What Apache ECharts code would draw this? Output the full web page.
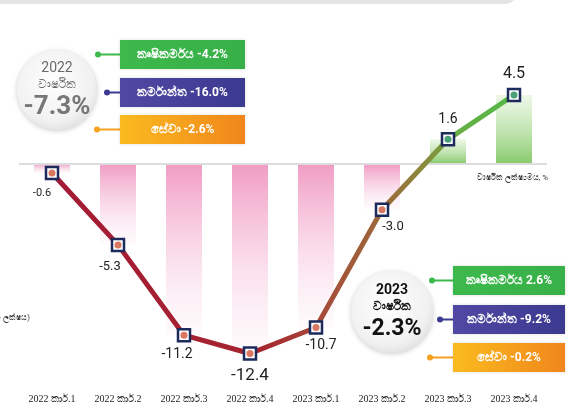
<!DOCTYPE html>
<html>
<head>
<meta charset="utf-8">
<script src="https://cdn.jsdelivr.net/npm/echarts@6/dist/echarts.min.js"></script>
<style>
  html, body { margin: 0; padding: 0; background: #fff; }
  #chart { width: 576px; height: 412px; }
</style>
</head>
<body>
<div id="chart"></div>
<script>
// quarters and annual growth rate (%)
var quarters = ['2022 කාර්.1', '2022 කාර්.2', '2022 කාර්.3', '2022 කාර්.4',
                '2023 කාර්.1', '2023 කාර්.2', '2023 කාර්.3', '2023 කාර්.4'];
var growth = [-0.6, -5.3, -11.2, -12.4, -10.7, -3.0, 1.6, 4.5];

// yearly summaries
var summary2022 = ['2022', 'වාර්ෂික', '-7.3%'];
var summary2023 = ['2023', 'වාර්ෂික', '-2.3%'];
var sectors2022 = ['කෘෂිකර්මය -4.2%', 'කර්මාන්ත -16.0%', 'සේවා -2.6%'];
var sectors2023 = ['කෘෂිකර්මය 2.6%', 'කර්මාන්ත -9.2%', 'සේවා -0.2%'];

// label placement per point (style only)
var labelOffsets = [[-10, 2], [-8, 2], [-7, -1], [0, 0], [5, -2], [11, -3], [0, 0], [0, 0]];
var labelSizes = [11, 13, 14, 17, 14, 13, 14, 16];

var font = '"Roboto", "Liberation Sans", "Noto Sans", sans-serif';
var chart = echarts.init(document.getElementById('chart'));

function barColor(v) {
  if (v < 0) {
    return new echarts.graphic.LinearGradient(0, 0, 0, 1, [
      { offset: 0, color: 'rgba(240,150,192,0.95)' },
      { offset: 1, color: 'rgba(250,225,237,0.15)' }
    ]);
  }
  return new echarts.graphic.LinearGradient(0, 0, 0, 1, [
    { offset: 0, color: 'rgba(225,243,215,0.6)' },
    { offset: 1, color: 'rgba(130,200,100,0.95)' }
  ]);
}

var barData = growth.map(function (v) {
  return { value: v, itemStyle: { color: barColor(v) } };
});

var lineData = growth.map(function (v, i) {
  return {
    value: v,
    label: {
      show: true,
      position: v < 0 ? 'bottom' : 'top',
      distance: 6,
      offset: labelOffsets[i],
      fontSize: labelSizes[i],
      color: '#222',
      fontFamily: font,
      formatter: function (p) { return p.value.toFixed(1); }
    }
  };
});

var dotData = growth.map(function (v) {
  return { value: v, itemStyle: { color: v < 0 ? '#d0553a' : '#1e8a55' } };
});

// annotation helpers
var boxColors = [
  new echarts.graphic.LinearGradient(0, 0, 1, 0, [{ offset: 0, color: '#3db94c' }, { offset: 1, color: '#38b048' }]),
  new echarts.graphic.LinearGradient(0, 0, 1, 0, [{ offset: 0, color: '#5148a3' }, { offset: 1, color: '#3b3990' }]),
  new echarts.graphic.LinearGradient(0, 0, 1, 0, [{ offset: 0, color: '#fbbb1f' }, { offset: 1, color: '#f0861c' }])
];
var dotColors = ['#3db94c', '#3d3a92', '#f6a21e'];

function sectorBoxes(labels, x, ys, w, h, dotXs) {
  var els = [];
  labels.forEach(function (t, i) {
    var cy = ys[i] + h / 2;
    els.push({ type: 'line', shape: { x1: dotXs[i], y1: cy, x2: x, y2: cy },
      style: { stroke: dotColors[i], lineWidth: 2 } });
    els.push({ type: 'circle', shape: { cx: dotXs[i], cy: cy, r: 3 }, style: { fill: dotColors[i] } });
    els.push({ type: 'rect', shape: { x: x, y: ys[i], width: w, height: h },
      style: { fill: boxColors[i], shadowBlur: 3, shadowColor: 'rgba(0,0,0,0.15)' } });
    els.push({ type: 'text', x: x + w / 2, y: cy,
      style: { text: t, fill: '#fff', font: 'bold 12px ' + font, align: 'center', verticalAlign: 'middle' } });
  });
  return els;
}

function badge(cx, cy, r, lines, dark) {
  return [
    { type: 'circle', shape: { cx: cx, cy: cy, r: r },
      style: {
        fill: new echarts.graphic.RadialGradient(0.45, 0.4, 0.7, [
          { offset: 0, color: '#ffffff' }, { offset: 0.7, color: '#f1f1f1' }, { offset: 1, color: '#d9d9d9' }
        ]),
        shadowBlur: 5, shadowColor: 'rgba(0,0,0,0.2)', shadowOffsetY: 1
      } },
    { type: 'text', x: cx, y: cy - 22,
      style: { text: lines[0], fill: dark ? '#111' : '#6a6a6a', font: (dark ? 'bold ' : '') + '14px ' + font, align: 'center', verticalAlign: 'middle' } },
    { type: 'text', x: cx, y: cy - 5,
      style: { text: lines[1], fill: dark ? '#111' : '#6a6a6a', font: (dark ? 'bold ' : '') + '12px ' + font, align: 'center', verticalAlign: 'middle' } },
    { type: 'text', x: cx, y: cy + 17,
      style: { text: lines[2], fill: dark ? '#111' : '#777', font: 'bold ' + (dark ? 23 : 26) + 'px ' + font, align: 'center', verticalAlign: 'middle' } }
  ];
}

var graphics = [
  { type: 'rect', shape: { x: -20, y: -20, width: 536, height: 24, r: 10 }, style: { fill: '#e4e4e4' } },
  { type: 'text', x: 548, y: 178,
    style: { text: 'වාර්ෂික ලක්ෂ්‍යමය, %', fill: '#333', font: '8px ' + font, align: 'right', verticalAlign: 'middle' } },
  { type: 'text', x: 30, y: 318,
    style: { text: '(ප්‍රතිශත ලක්ෂය)', fill: '#333', font: '8px ' + font, align: 'right', verticalAlign: 'middle' } }
]
  .concat(badge(57, 90, 40, summary2022, false))
  .concat(sectorBoxes(sectors2022, 120, [40, 78, 115], 125, 29, [98, 107, 97]))
  .concat(badge(392, 312, 41, summary2023, true))
  .concat(sectorBoxes(sectors2023, 453, [266, 305, 343], 112, 29, [432, 440, 430]));

var option = {
  animation: false,
  grid: { left: 19, right: 29, top: 72, bottom: 34 },
  xAxis: {
    type: 'category',
    data: quarters,
    axisLine: { show: false, onZero: false },
    axisTick: { show: false },
    axisLabel: { color: '#222', fontSize: 10, margin: 16, fontFamily: '"Liberation Serif", "DejaVu Serif", serif' }
  },
  yAxis: {
    type: 'value', min: -14, max: 6, show: false, splitLine: { show: false }
  },
  series: [
    {
      type: 'bar',
      data: barData,
      barWidth: 36,
      silent: true,
      z: 1,
      markLine: {
        silent: true, symbol: 'none', label: { show: false },
        lineStyle: { color: '#dcdcdc', width: 2, type: 'solid' },
        data: [{ yAxis: 0 }]
      }
    },
    {
      type: 'line',
      data: lineData,
      z: 5,
      symbol: 'rect',
      symbolSize: 12,
      itemStyle: { color: '#ffffff', borderColor: '#1d2a5c', borderWidth: 2.5 },
      lineStyle: {
        width: 5,
        color: new echarts.graphic.LinearGradient(0, 0, 1, 0, [
          { offset: 0, color: '#a31a36' },
          { offset: 0.45, color: '#a6252f' },
          { offset: 0.6, color: '#a5503a' },
          { offset: 0.72, color: '#9b6a3a' },
          { offset: 0.8, color: '#8a8a3c' },
          { offset: 0.88, color: '#66b046' },
          { offset: 1, color: '#52b847' }
        ])
      }
    },
    {
      type: 'scatter',
      data: dotData,
      z: 6,
      symbol: 'circle',
      symbolSize: 7,
      silent: true
    }
  ],
  graphic: graphics
};
chart.setOption(option);
</script>
</body>
</html>
